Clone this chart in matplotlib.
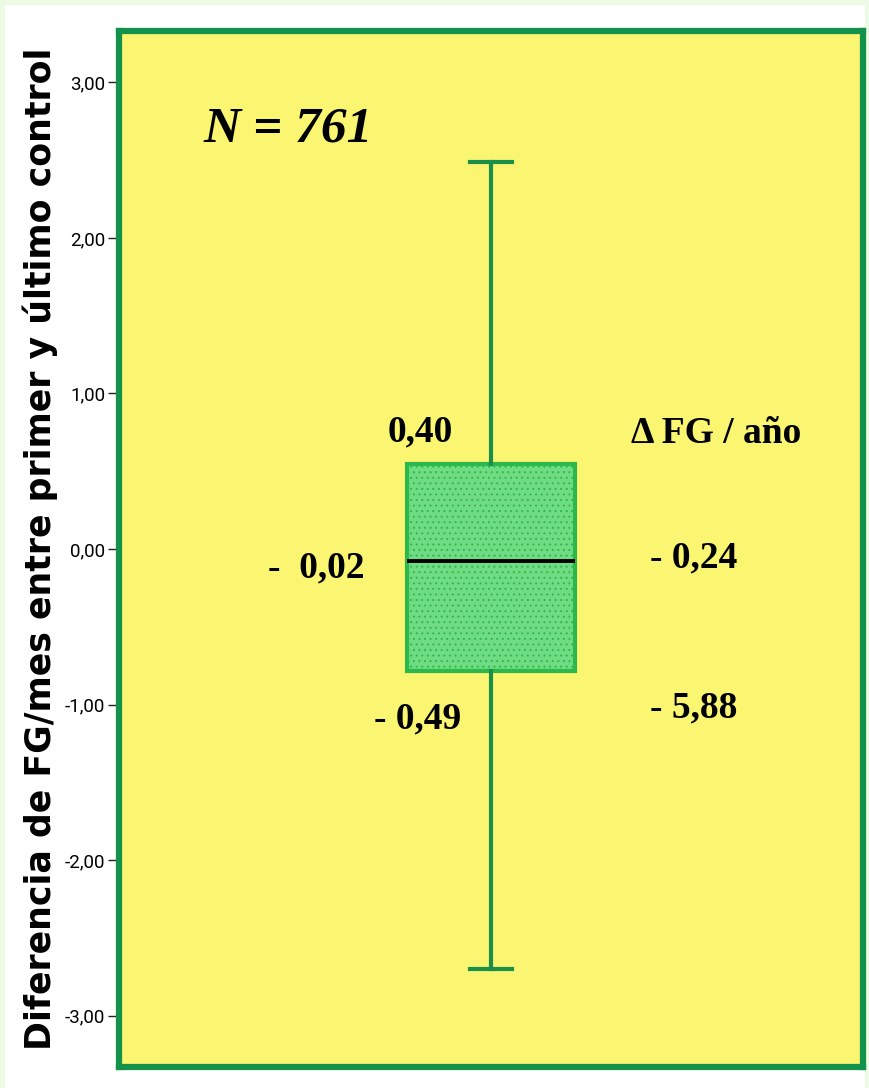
import matplotlib.pyplot as plt
from matplotlib.patches import Rectangle

# box statistics
q1 = -0.785
median = -0.077
q3 = 0.547
whisker_low = -2.70
whisker_high = 2.49

yticks = [-3, -2, -1, 0, 1, 2, 3]
ytick_labels = ['-3,00', '-2,00', '-1,00', '0,00', '1,00', '2,00', '3,00']

# annotation texts (x in axes fraction, y in data units)
notes = ['0,40', '-  0,02', '- 0,49', '\u0394 FG / año', '- 0,24', '- 5,88']
notes_x = [0.405, 0.265, 0.401, 0.803, 0.773, 0.773]
notes_y = [0.75, -0.12, -1.09, 0.74, -0.06, -1.02]

plt.rcParams['hatch.color'] = '#4cc465'
plt.rcParams['hatch.linewidth'] = 0.7

fig = plt.figure(figsize=(8.7, 10.88), dpi=100, facecolor='#edfbe5')
fig.patches.append(Rectangle((5 / 870, 0), 860 / 870, 1 - 5 / 1088,
                             transform=fig.transFigure, facecolor='white',
                             edgecolor='none', zorder=-10))

ax = fig.add_axes([119 / 870, 21 / 1088, 744 / 870, 1036 / 1088])
ax.set_zorder(1)
ax.set_facecolor('#faf672')

stats = [dict(q1=q1, med=median, q3=q3, whislo=whisker_low, whishi=whisker_high, fliers=[])]
bp = ax.bxp(stats, positions=[1], widths=0.225, capwidths=0.056, patch_artist=True,
            boxprops=dict(facecolor='#6fdc83', edgecolor='#2db84b', linewidth=3, hatch='...'),
            medianprops=dict(color='black', linewidth=2.8),
            whiskerprops=dict(color='#1b8f4a', linewidth=3),
            capprops=dict(color='#1b8f4a', linewidth=3))

ax.set_xlim(0.5, 1.5)
ax.set_ylim(-3.33, 3.33)
ax.set_xticks([])
ax.set_yticks(yticks)
ax.set_yticklabels(ytick_labels, family='Roboto', fontsize=13.5)
ax.tick_params(axis='y', length=8, width=1, pad=2, color='#222222')

for s in ax.spines.values():
    s.set_color('#12924a')
    s.set_linewidth(4.5)

ax.set_ylabel('Diferencia de FG/mes entre primer y último control', family='DejaVu Sans',
              fontweight='bold', fontsize=25)
ax.yaxis.set_label_coords(-0.082, 0.5)

tr = ax.get_yaxis_transform()
ax.text(0.228, 2.70, 'N = 761', transform=tr, ha='center', va='center',
        family='Liberation Serif', fontweight='bold', fontstyle='italic', fontsize=37)
for t, x, y in zip(notes, notes_x, notes_y):
    ax.text(x, y, t, transform=tr, ha='center', va='center',
            family='Liberation Serif', fontweight='bold', fontsize=27)

fig.savefig('out.png', dpi=100, facecolor=fig.get_facecolor())
